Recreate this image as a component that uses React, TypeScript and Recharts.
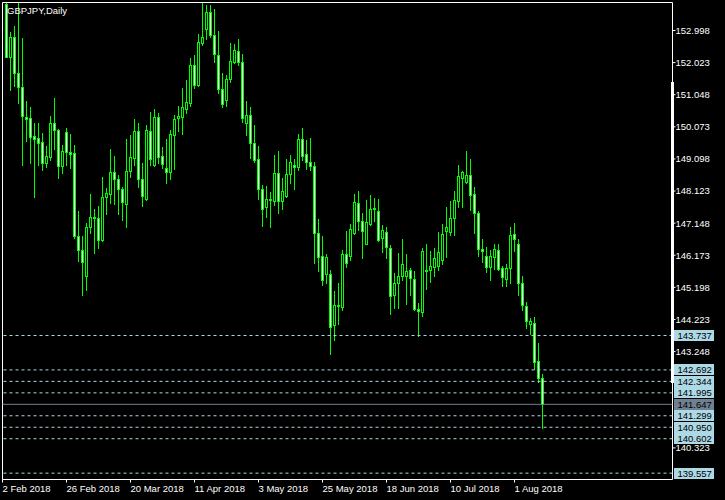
import { Bar, ComposedChart, ReferenceArea, ReferenceLine, XAxis, YAxis } from "recharts";

// GBPJPY daily candles, 2 Feb 2018 .. 9 Aug 2018
const OPEN = [
  153.8, 152.2, 152.8, 151.7, 151.27, 150.36, 150.33, 149.78, 149.73, 149.61,
  148.98, 149.17, 150.18, 149.98, 148.89, 149.91, 149.3, 149.27, 146.76, 146.33,
  145.55, 147.04, 147.32, 147.3, 146.63, 147.93, 148.02, 148.69, 148.48, 148.2,
  147.72, 148.73, 149.13, 149.95, 148.48, 147.88, 149.95, 148.91, 150.36, 149.19,
  148.81, 148.71, 149.82, 150.33, 150.36, 150.61, 150.81, 151.95, 151.33, 152.63,
  153.04, 153.56, 152.87, 152.26, 151.22, 150.89, 151.52, 152.04, 152.38, 152.04,
  150.18, 150.43, 149.57, 149.09, 148.2, 147.64, 147.87, 147.83, 148.66, 147.83,
  147.97, 148.63, 148.9, 148.84, 149.69, 149.24, 149.01, 148.89, 146.84, 146.15,
  145.6, 145.6, 144.05, 144.66, 144.61, 146.21, 146.16, 146.84, 147.75, 147.21,
  146.53, 147.11, 147.6, 147.51, 146.71, 146.87, 146.38, 144.98, 145.32, 145.55,
  145.55, 145.72, 145.44, 144.55, 144.45, 145.74, 145.72, 145.82, 145.85, 146.03,
  146.92, 146.89, 147.31, 147.83, 148.51, 148.41, 148.61, 148.03, 147.45, 146.35,
  146.15, 145.82, 146.13, 146.33, 145.79, 145.44, 145.8, 146.82, 146.53, 145.32,
  144.63, 144.08, 144.12, 142.95, 142.46,
];
const HIGH = [
  153.84, 152.94, 153.14, 153.84, 152.78, 150.86, 150.66, 150.19, 150.2, 149.9,
  149.49, 150.4, 150.95, 150.0, 149.52, 150.04, 149.86, 149.52, 147.52, 146.75,
  147.14, 148.02, 147.58, 147.66, 148.54, 148.23, 149.39, 149.19, 148.61, 148.24,
  149.69, 149.82, 150.31, 150.18, 148.96, 150.13, 150.53, 150.62, 150.5, 149.47,
  149.69, 149.98, 150.43, 150.71, 151.26, 151.5, 152.16, 152.26, 152.9, 153.84,
  153.78, 153.78, 153.66, 152.99, 151.72, 151.65, 152.63, 152.59, 152.75, 152.29,
  150.86, 150.66, 150.13, 149.49, 148.3, 148.27, 148.1, 149.22, 149.34, 148.51,
  149.09, 149.22, 149.09, 149.86, 150.03, 149.67, 149.72, 148.99, 147.26, 146.75,
  146.21, 145.72, 145.08, 145.34, 146.33, 146.91, 147.12, 148.03, 148.13, 147.46,
  147.85, 148.0, 147.92, 147.88, 147.09, 147.02, 146.48, 145.62, 146.23, 146.66,
  146.21, 145.79, 145.69, 144.71, 146.38, 146.51, 146.3, 146.4, 146.89, 147.11,
  147.65, 147.83, 148.12, 148.91, 148.73, 149.34, 149.09, 148.26, 147.52, 146.66,
  146.43, 146.33, 146.51, 146.51, 145.84, 145.9, 147.02, 147.16, 146.66, 145.54,
  144.76, 144.28, 144.3, 143.51, 142.58,
];
const LOW = [
  152.18, 151.19, 151.31, 150.81, 148.91, 149.64, 148.98, 147.95, 148.91, 148.76,
  148.86, 149.07, 149.4, 148.53, 148.66, 148.9, 148.83, 146.69, 145.99, 144.98,
  145.11, 146.84, 146.23, 146.38, 146.61, 147.42, 147.75, 147.73, 147.42, 147.24,
  147.04, 148.56, 148.91, 148.25, 147.68, 147.86, 148.91, 148.89, 148.96, 148.81,
  148.37, 148.49, 148.79, 149.96, 149.86, 150.48, 150.71, 151.25, 151.31, 152.56,
  152.75, 152.8, 152.05, 151.09, 150.69, 150.72, 151.42, 152.0, 151.95, 150.23,
  149.83, 149.14, 149.01, 147.87, 147.07, 147.34, 147.04, 147.7, 147.46, 147.58,
  147.93, 148.38, 148.19, 148.76, 149.07, 148.78, 148.76, 145.94, 145.69, 145.27,
  145.32, 143.17, 143.59, 144.1, 144.51, 145.82, 146.03, 146.81, 146.94, 146.1,
  146.51, 147.09, 147.22, 146.61, 146.28, 146.1, 144.38, 144.57, 144.57, 145.42,
  144.7, 144.96, 144.5, 143.72, 144.32, 145.16, 145.35, 145.54, 145.72, 145.9,
  146.13, 146.79, 146.79, 147.65, 147.65, 148.38, 147.55, 146.86, 146.16, 145.97,
  145.67, 145.42, 145.77, 145.72, 145.23, 145.24, 145.33, 146.3, 144.96, 144.5,
  143.95, 143.77, 142.71, 142.32, 140.94,
];
const CLOSE = [
  152.2, 152.8, 151.7, 151.29, 150.41, 150.3, 149.76, 149.71, 149.59, 148.98,
  149.19, 150.18, 149.98, 148.89, 149.34, 149.3, 149.25, 146.76, 146.33, 145.96,
  147.04, 147.32, 147.3, 146.63, 147.93, 148.05, 148.69, 148.48, 148.2, 147.8,
  148.72, 149.15, 149.95, 148.48, 147.98, 149.98, 149.1, 150.36, 149.17, 148.93,
  148.71, 149.85, 150.31, 150.39, 150.67, 150.84, 151.95, 151.35, 152.64, 152.8,
  153.56, 152.87, 152.28, 151.22, 150.76, 151.53, 152.08, 152.41, 152.05, 150.33,
  150.43, 149.57, 149.07, 148.2, 147.57, 147.87, 147.85, 148.66, 147.83, 148.12,
  148.63, 148.99, 148.86, 149.69, 149.19, 149.01, 148.89, 146.86, 146.13, 145.42,
  146.13, 144.0, 144.66, 144.63, 146.21, 145.93, 146.97, 147.78, 147.22, 146.91,
  147.17, 147.57, 147.58, 146.63, 146.94, 146.41, 144.94, 145.32, 145.54, 145.9,
  145.7, 145.47, 144.53, 144.48, 146.3, 145.7, 145.84, 146.09, 146.26, 146.82,
  147.02, 147.31, 147.85, 148.58, 148.69, 148.61, 148.0, 147.45, 146.35, 146.31,
  145.82, 146.15, 146.36, 145.75, 145.5, 145.8, 146.79, 146.66, 145.32, 144.66,
  144.18, 144.17, 142.93, 142.45, 141.647,
];

const DATE_TICKS = [0, 16, 32, 48, 64, 80, 96, 112, 128];
const DATE_LABELS = [
  "2 Feb 2018", "26 Feb 2018", "20 Mar 2018", "11 Apr 2018", "3 May 2018",
  "25 May 2018", "18 Jun 2018", "10 Jul 2018", "1 Aug 2018",
];

const PRICE_TICKS = [
  152.998, 152.023, 151.048, 150.073, 149.098, 148.123, 147.148, 146.173,
  145.198, 144.223, 143.248, 140.323,
];
const LEVELS = [143.737, 142.692, 142.344, 141.995, 141.299, 140.95, 140.602, 139.557];
const BID = 141.647;
const SCALE_BAR = [151.434, 142.293];

const Y_DOMAIN: [number, number] = [139.364, 153.848];
const X_DOMAIN: [number, number] = [-1, 166.5];

const FONT = "'Liberation Sans', Arial, sans-serif";
const LIME = "#00ff00";

const candles = OPEN.map((open, i) => ({
  i,
  open,
  high: HIGH[i],
  low: LOW[i],
  close: CLOSE[i],
}));

function Candle(props: any) {
  const { x, y, width, height } = props;
  const d = props.payload ?? props;
  const top = Math.min(y, y + height);
  const bottom = Math.max(y, y + height);
  const k = d.high > d.low ? (bottom - top) / (d.high - d.low) : 0;
  const cx = Math.floor(x + width / 2);
  const yo = top + (d.high - d.open) * k;
  const yc = top + (d.high - d.close) * k;
  const wTop = Math.round(top);
  const wBot = Math.round(bottom);
  const bTop = Math.round(Math.min(yo, yc));
  const bBot = Math.round(Math.max(yo, yc));
  const bull = d.close > d.open;
  return (
    <g>
      <rect x={cx} y={wTop} width={1} height={Math.max(1, wBot - wTop + 1)} fill={LIME} />
      <rect x={cx - 1} y={bTop} width={3} height={Math.max(1, bBot - bTop + 1)} fill={LIME} />
      {bBot - bTop > 1 && (
        <rect x={cx} y={bTop + 1} width={1} height={bBot - bTop - 1} fill={bull ? "#000" : "#fff"} />
      )}
    </g>
  );
}

function DateTick(props: any) {
  const { x, y, payload } = props;
  const idx = DATE_TICKS.indexOf(payload.value);
  const tx = Math.floor(x) - 4 + 0.5;
  return (
    <g>
      <line x1={tx} x2={tx} y1={y} y2={y + 3} stroke="#fff" />
      <text x={tx} y={y + 12} fill="#fff" fontSize={9.5} fontFamily={FONT}>
        {DATE_LABELS[idx]}
      </text>
    </g>
  );
}

function LevelTag(props: any) {
  const { viewBox, price, fill } = props;
  if (!viewBox) return null;
  const ly = Math.floor(viewBox.y);
  const bx = viewBox.x + viewBox.width + 1.5;
  return (
    <g>
      <rect x={bx} y={ly - 5} width={40} height={11} fill={fill} />
      <text x={bx + 3.5} y={ly + 3.5} fill="#000" fontSize={9.5} fontFamily={FONT}>
        {price.toFixed(3)}
      </text>
    </g>
  );
}

export default function App() {
  return (
    <div
      style={{
        position: "absolute",
        left: 0,
        top: 0,
        width: 725,
        height: 500,
        background: "#000",
        fontFamily: FONT,
      }}
    >
      <ComposedChart
        width={725}
        height={500}
        data={candles}
        margin={{ top: 2.5, right: 0, bottom: 0, left: 2.5 }}
      >
        <XAxis
          dataKey="i"
          type="number"
          domain={X_DOMAIN}
          allowDataOverflow
          ticks={DATE_TICKS}
          interval={0}
          height={20.5}
          axisLine={false}
          tickLine={false}
          tickSize={0}
          tickMargin={0}
          tick={<DateTick />}
        />
        <YAxis
          orientation="right"
          type="number"
          domain={Y_DOMAIN}
          allowDataOverflow
          ticks={PRICE_TICKS}
          interval={0}
          width={52.5}
          axisLine={false}
          tickLine={{ stroke: "#fff" }}
          tickSize={3}
          tickMargin={0}
          tickFormatter={(v: number) => v.toFixed(3)}
          tick={{ fill: "#fff", fontSize: 9.5, fontFamily: FONT }}
        />
        {LEVELS.map((v) => (
          <ReferenceLine
            key={v}
            y={v}
            stroke="#add8e6"
            strokeDasharray="3 3"
            label={<LevelTag price={v} fill="#add8e6" />}
          />
        ))}
        <ReferenceLine y={BID} stroke="#708090" label={<LevelTag price={BID} fill="#708090" />} />
        <Bar
          dataKey={(d: any) => [d.low, d.high]}
          barSize={3}
          shape={<Candle />}
          isAnimationActive={false}
        />
        <ReferenceArea
          x1={X_DOMAIN[0]}
          x2={X_DOMAIN[1]}
          y1={Y_DOMAIN[0]}
          y2={Y_DOMAIN[1]}
          fill="none"
          stroke="#fff"
          ifOverflow="visible"
        />
        <ReferenceLine
          segment={[
            { x: X_DOMAIN[1], y: SCALE_BAR[0] },
            { x: X_DOMAIN[1], y: SCALE_BAR[1] },
          ]}
          stroke="#fff"
          strokeWidth={3}
        />
      </ComposedChart>
      <div
        style={{
          position: "absolute",
          left: 7,
          top: 4.5,
          color: "#fff",
          fontSize: 9.5,
          lineHeight: "11px",
        }}
      >
        GBPJPY,Daily
      </div>
    </div>
  );
}
